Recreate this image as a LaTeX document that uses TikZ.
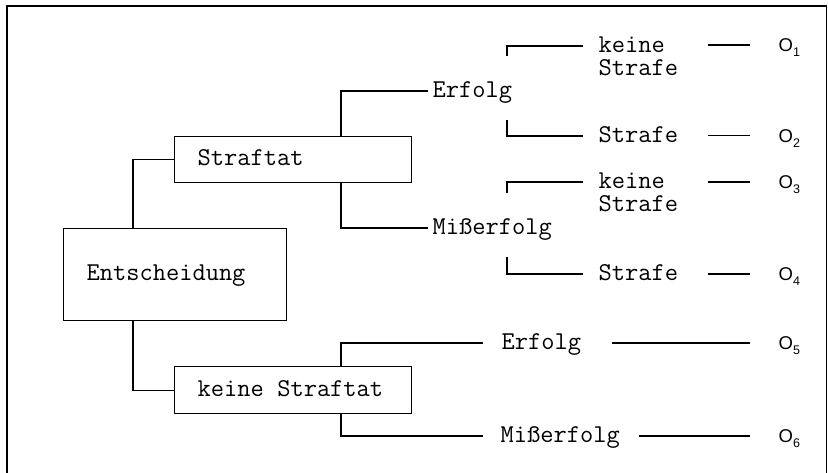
\documentclass[tikz,border=0pt]{standalone}
\usepackage{fontspec}
\setmainfont{Liberation Serif}
\newfontfamily\osans{Liberation Sans}
\newcommand{\Osub}[1]{O\raisebox{-5pt}{\fontsize{12.5}{12.5}\selectfont #1}}
\begin{document}
\begin{tikzpicture}[x=1pt,y=-1pt,line width=1.3pt,
  box/.style={draw, rectangle, anchor=north west, inner xsep=23pt, inner ysep=0pt,
    align=left, text height=16pt, text depth=4pt,
    font=\ttfamily\fontsize{25.7}{23}\selectfont},
  lbl/.style={anchor=base west, inner ysep=0pt, inner xsep=4pt,
    text height=16pt, text depth=4pt,
    font=\ttfamily\fontsize{25.7}{23}\selectfont},
  twoline/.style={anchor=base west, inner ysep=0pt, inner xsep=15pt, align=left,
    font=\ttfamily\fontsize{25.7}{23}\selectfont},
  onode/.style={anchor=base west, inner ysep=0pt, inner xsep=28pt,
    text height=13pt, text depth=0pt, font=\osans\fontsize{18.5}{18.5}\selectfont}
]
\useasboundingbox (0,0) rectangle (828,472);
% frame
\draw[line width=1.5pt] (7,473) -- (7,6) -- (826.5,6) -- (826.5,473);

% boxes
\node[box, text width=191pt, minimum height=46pt] (straf) at (174,136) {Straftat};
\node[box, text width=177pt, minimum height=92pt] (entsch) at (63,228) {Entscheidung};
\node[box, text width=191pt, minimum height=47pt] (kstraf) at (174,366) {keine\hspace{0.525em}Straftat};

\draw (straf.west) -| ([xshift=70pt]entsch.north west);
\draw (kstraf.west) -| ([xshift=70pt]entsch.south west);

% second level
\node[lbl] (erf1) at (428,97) {Erfolg};
\node[lbl] (mis1) at (428,234) {Mißerfolg};
\node[lbl, inner xsep=18pt] (erf2) at (483,349) {Erfolg};
\node[lbl, inner xsep=17pt] (mis2) at (483,442) {Mißerfolg};

\draw ([xshift=167pt]straf.north west) |- (erf1.west);
\draw ([xshift=167pt]straf.south west) |- (mis1.west);
\draw ([xshift=167pt]kstraf.north west) |- (erf2.west);
\draw ([xshift=167pt]kstraf.south west) |- (mis2.west);

% third level
\node[twoline] (ks1) at (583,52) {\begin{tabular}[t]{@{}l@{}}keine\\Strafe\end{tabular}};
\node[lbl, inner xsep=15pt] (st1) at (583,142) {Strafe};
\node[twoline] (ks2) at (583,188) {\begin{tabular}[t]{@{}l@{}}keine\\Strafe\end{tabular}};
\node[lbl, inner xsep=15pt] (st2) at (583,280) {Strafe};

\draw ([yshift=6pt]ks1.base west) -- ++(-76,0) -- ++(0,10);
\draw (st1.west) -- ++(-76,0) -- ++(0,-16);
\draw ([yshift=6pt]ks2.base west) -- ++(-76,0) -- ++(0,11);
\draw (st2.west) -- ++(-76,0) -- ++(0,-17);

% outcomes
\node[onode] (o1) at (750,51.5) {\Osub{1}};
\node[onode] (o2) at (750,142) {\Osub{2}};
\node[onode] (o3) at (750,188.5) {\Osub{3}};
\node[onode] (o4) at (750,280.5) {\Osub{4}};
\node[onode] (o5) at (750,349.5) {\Osub{5}};
\node[onode] (o6) at (750,442.5) {\Osub{6}};

\draw (o1.west) -- ++(-42,0);
\draw (o2.west) -- ++(-42,0);
\draw (o3.west) -- ++(-42,0);
\draw (o4.west) -- ++(-42,0);
\draw (o5.west) -- ++(-138,0);
\draw (o6.west) -- ++(-111,0);
\end{tikzpicture}
\end{document}
